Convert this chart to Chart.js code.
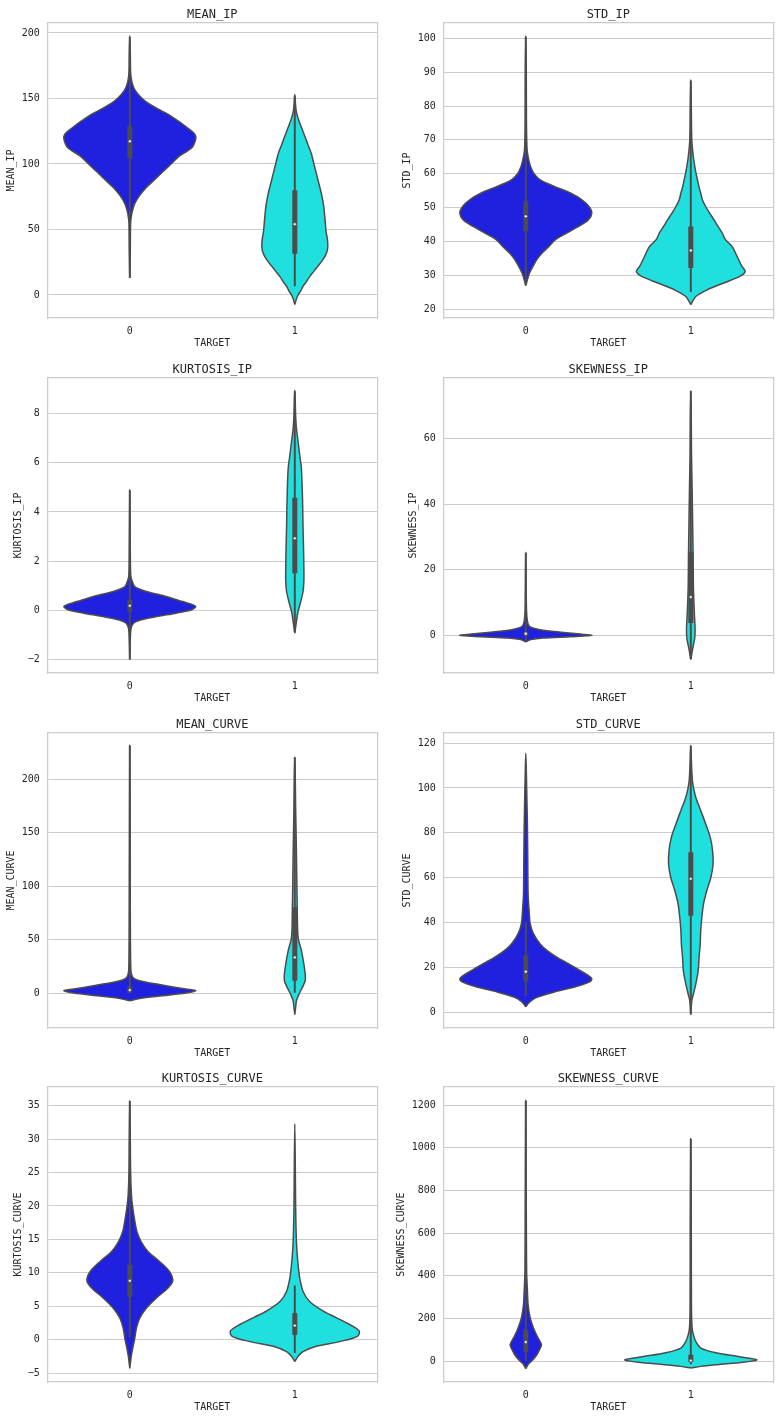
<!DOCTYPE html>
<html>
<head>
<meta charset="utf-8">
<script src="https://cdn.jsdelivr.net/npm/chart.js@4.4.0/dist/chart.umd.min.js"></script>
<style>
html, body { margin: 0; padding: 0; background: #fff; overflow: hidden; }
#grid { position: relative; width: 779px; height: 1420px; }
#grid canvas { position: absolute; }
</style>
</head>
<body>
<div id="grid"></div>
<script>
// categories on the x axis
const CATEGORIES = ['0', '1'];
const X_LABEL = 'TARGET';

// violin outlines: [value, half width in category units], bottom tip to top tip
const MEAN_IP_0 = [[13, 0], [35, 0.003], [55, 0.005], [62, 0.012], [67, 0.022], [71, 0.035], [76, 0.06], [82, 0.1], [88, 0.15], [94, 0.2], [100, 0.25], [106, 0.3], [110, 0.35], [113, 0.38], [117, 0.395], [121, 0.4], [124, 0.385], [128, 0.345], [133, 0.29], [138, 0.23], [142, 0.17], [146, 0.115], [150, 0.075], [154, 0.045], [158, 0.025], [163, 0.012], [170, 0.005], [185, 0.003], [198, 0]];
const MEAN_IP_1 = [[-7.4, 0], [-3, 0.01], [0, 0.02], [3, 0.035], [6.6, 0.05], [10, 0.07], [14, 0.09], [18, 0.115], [22, 0.14], [26, 0.165], [30, 0.185], [34, 0.197], [38, 0.2], [43, 0.197], [48, 0.19], [55, 0.185], [62, 0.18], [68, 0.175], [73, 0.168], [78, 0.16], [83, 0.15], [88, 0.14], [93, 0.13], [98, 0.12], [103, 0.11], [108, 0.1], [113, 0.085], [118, 0.07], [123, 0.055], [128, 0.04], [133, 0.025], [137, 0.015], [141, 0.008], [146, 0.004], [153, 0]];
const STD_IP_0 = [[26.9, 0], [28.7, 0.01], [30.6, 0.022], [32.6, 0.043], [34.6, 0.067], [36.6, 0.1], [38.5, 0.14], [40.5, 0.18], [42.5, 0.25], [44.4, 0.32], [46.4, 0.38], [48.4, 0.4], [50.3, 0.383], [52.3, 0.34], [54.3, 0.27], [56.3, 0.17], [58.2, 0.087], [60, 0.05], [62, 0.03], [64.1, 0.018], [67, 0.008], [75, 0.004], [90, 0.003], [100.8, 0]];
const STD_IP_1 = [[21.3, 0], [23.7, 0.03], [25.7, 0.1], [27.7, 0.2], [29.7, 0.3], [31.1, 0.33], [32.6, 0.31], [35.6, 0.28], [38.5, 0.25], [40.5, 0.21], [42.5, 0.19], [44.4, 0.165], [46.4, 0.14], [48.3, 0.115], [50.3, 0.09], [52.3, 0.07], [54.3, 0.06], [56, 0.05], [58.2, 0.04], [60, 0.032], [62.2, 0.024], [65.1, 0.015], [70, 0.006], [80, 0.003], [87.8, 0]];
const KURTOSIS_IP_0 = [[-2.0, 0], [-1.2, 0.003], [-0.72, 0.008], [-0.51, 0.024], [-0.38, 0.07], [-0.24, 0.17], [-0.11, 0.28], [0.03, 0.375], [0.16, 0.4], [0.26, 0.37], [0.36, 0.32], [0.57, 0.22], [0.77, 0.1], [0.97, 0.03], [1.18, 0.015], [1.4, 0.006], [2.5, 0.003], [4.9, 0]];
const KURTOSIS_IP_1 = [[-0.92, 0], [-0.45, 0.01], [-0.04, 0.02], [0.36, 0.036], [0.77, 0.05], [1.18, 0.055], [1.72, 0.055], [2.53, 0.053], [3.34, 0.05], [4.15, 0.048], [4.96, 0.045], [5.77, 0.04], [6.3, 0.03], [6.85, 0.02], [7.4, 0.01], [7.93, 0.005], [8.4, 0.003], [8.95, 0]];
const SKEWNESS_IP_0 = [[-2.1, 0], [-1.4, 0.03], [-0.9, 0.107], [-0.5, 0.27], [-0.1, 0.4], [0.3, 0.33], [0.81, 0.23], [1.63, 0.087], [2.64, 0.022], [4.2, 0.01], [8, 0.004], [25.3, 0]];
const SKEWNESS_IP_1 = [[-7.5, 0], [-4, 0.012], [-0.9, 0.024], [2.1, 0.026], [6.2, 0.022], [14.3, 0.016], [24.5, 0.014], [34.7, 0.011], [44.8, 0.008], [56, 0.004], [65, 0.003], [74.8, 0]];
const MEAN_CURVE_0 = [[-6.9, 0], [-4.7, 0.06], [-2.2, 0.2], [0.3, 0.34], [2.5, 0.4], [4.0, 0.34], [7.2, 0.22], [10.3, 0.1], [13.4, 0.03], [18, 0.01], [30, 0.005], [80, 0.003], [231.5, 0]];
const MEAN_CURVE_1 = [[-19.9, 0], [-12, 0.006], [-6.9, 0.01], [-0.6, 0.026], [5.6, 0.046], [11.8, 0.063], [18, 0.063], [27.4, 0.055], [39.9, 0.04], [52.3, 0.02], [77.3, 0.015], [108.4, 0.012], [139.6, 0.009], [174, 0.005], [200, 0.003], [220.6, 0]];
const STD_CURVE_0 = [[2.5, 0], [4.5, 0.022], [6.7, 0.067], [9.0, 0.17], [11.2, 0.29], [13.4, 0.38], [14.9, 0.4], [16.4, 0.38], [18.6, 0.33], [21.6, 0.26], [24.5, 0.19], [27.5, 0.13], [30.5, 0.087], [35, 0.047], [39.4, 0.027], [45.4, 0.02], [52.8, 0.014], [67.7, 0.012], [82.5, 0.01], [97.4, 0.006], [108, 0.003], [115.5, 0]];
const STD_CURVE_1 = [[-1, 0], [5.2, 0.006], [8.2, 0.016], [12.6, 0.03], [18.6, 0.045], [24.5, 0.05], [30.5, 0.057], [36.4, 0.06], [42.4, 0.067], [48.3, 0.077], [54.3, 0.097], [60.2, 0.122], [66.2, 0.135], [72, 0.132], [78, 0.118], [84, 0.09], [90, 0.06], [95.9, 0.03], [101.9, 0.012], [109.3, 0.005], [119, 0]];
const KURTOSIS_CURVE_0 = [[-4.3, 0], [-2.3, 0.01], [-1.0, 0.02], [0.2, 0.03], [1.7, 0.04], [3.2, 0.06], [4.7, 0.1], [6.2, 0.16], [7.7, 0.23], [8.8, 0.26], [10.2, 0.24], [11.7, 0.18], [13.2, 0.11], [14.6, 0.07], [16.1, 0.044], [18.1, 0.028], [20.1, 0.016], [21.6, 0.01], [25, 0.005], [30, 0.003], [35.8, 0]];
const KURTOSIS_CURVE_1 = [[-3.3, 0], [-2.5, 0.02], [-1.8, 0.05], [-1.0, 0.13], [-0.3, 0.27], [0.5, 0.38], [1.3, 0.39], [2.3, 0.33], [3.3, 0.25], [4.3, 0.17], [5.7, 0.09], [7.2, 0.05], [9.2, 0.03], [11.2, 0.02], [13.7, 0.012], [16.1, 0.008], [20.1, 0.005], [26, 0.003], [32.3, 0]];
const SKEWNESS_CURVE_0 = [[-36, 0], [-14, 0.016], [6.2, 0.043], [29.6, 0.067], [53, 0.083], [76.5, 0.095], [115, 0.07], [154, 0.047], [201, 0.027], [264, 0.014], [326, 0.01], [420, 0.005], [700, 0.003], [1223, 0]];
const SKEWNESS_CURVE_1 = [[-33, 0], [-25, 0.06], [-17, 0.16], [-6, 0.32], [6, 0.4], [22, 0.28], [37.5, 0.16], [61, 0.06], [92, 0.03], [123, 0.016], [154, 0.008], [250, 0.004], [600, 0.003], [1044, 0]];

// inner box per class: [q1, median, q3, whisker low, whisker high]
const MEAN_IP_BOX = [[104.6, 117.3, 129, 13, 197], [31.5, 54, 80, 6.6, 152]];
const STD_IP_BOX = [[43, 47.4, 51.8, 27, 100.5], [32.1, 37.3, 44.4, 25, 87.5]];
const KURTOSIS_IP_BOX = [[-0.04, 0.19, 0.43, -1.98, 4.88], [1.51, 2.93, 4.58, -0.9, 8.9]];
const SKEWNESS_IP_BOX = [[-0.2, 0.4, 0.9, -2, 25.2], [3.66, 11.6, 25.5, -7.3, 74.6]];
const MEAN_CURVE_BOX = [[0.9, 3.1, 7.2, 0.2, 231], [11.8, 33.6, 80.4, 0.5, 220.3]];
const STD_CURVE_BOX = [[13.8, 18.1, 25.3, 7.4, 40.5], [43.1, 59.5, 71.4, -0.8, 118.8]];
const KURTOSIS_CURVE_BOX = [[6.4, 8.8, 11.2, 0.3, 35.7], [0.7, 2.1, 4.0, -2, 8.1]];
const SKEWNESS_CURVE_BOX = [[42, 89, 147, 0, 1220], [-5, 2, 30, -15, 1042]];

// y tick labels and y limits
const MEAN_IP_TICKS = [0, 50, 100, 150, 200];
const STD_IP_TICKS = [20, 30, 40, 50, 60, 70, 80, 90, 100];
const KURTOSIS_IP_TICKS = [-2, 0, 2, 4, 6, 8];
const SKEWNESS_IP_TICKS = [0, 20, 40, 60];
const MEAN_CURVE_TICKS = [0, 50, 100, 150, 200];
const STD_CURVE_TICKS = [0, 20, 40, 60, 80, 100, 120];
const KURTOSIS_CURVE_TICKS = [-5, 0, 5, 10, 15, 20, 25, 30, 35];
const SKEWNESS_CURVE_TICKS = [0, 200, 400, 600, 800, 1000, 1200];

const PANELS = [
    { name: 'MEAN_IP', violins: [MEAN_IP_0, MEAN_IP_1], box: MEAN_IP_BOX, ticks: MEAN_IP_TICKS, limits: [-17.6, 207.6] },
    { name: 'STD_IP', violins: [STD_IP_0, STD_IP_1], box: STD_IP_BOX, ticks: STD_IP_TICKS, limits: [17.34, 104.55] },
    { name: 'KURTOSIS_IP', violins: [KURTOSIS_IP_0, KURTOSIS_IP_1], box: KURTOSIS_IP_BOX, ticks: KURTOSIS_IP_TICKS, limits: [-2.54, 9.44] },
    { name: 'SKEWNESS_IP', violins: [SKEWNESS_IP_0, SKEWNESS_IP_1], box: SKEWNESS_IP_BOX, ticks: SKEWNESS_IP_TICKS, limits: [-11.6, 78.6] },
    { name: 'MEAN_CURVE', violins: [MEAN_CURVE_0, MEAN_CURVE_1], box: MEAN_CURVE_BOX, ticks: MEAN_CURVE_TICKS, limits: [-32.3, 243] },
    { name: 'STD_CURVE', violins: [STD_CURVE_0, STD_CURVE_1], box: STD_CURVE_BOX, ticks: STD_CURVE_TICKS, limits: [-6.96, 124.5] },
    { name: 'KURTOSIS_CURVE', violins: [KURTOSIS_CURVE_0, KURTOSIS_CURVE_1], box: KURTOSIS_CURVE_BOX, ticks: KURTOSIS_CURVE_TICKS, limits: [-6.34, 37.8] },
    { name: 'SKEWNESS_CURVE', violins: [SKEWNESS_CURVE_0, SKEWNESS_CURVE_1], box: SKEWNESS_CURVE_BOX, ticks: SKEWNESS_CURVE_TICKS, limits: [-98.3, 1285.7] }
];

// layout (pixels)
const COL_LEFT = [0, 390];
const COL_WIDTH = [390, 389];
const Y_AXIS_WIDTH = [47.3, 53.3];
const RIGHT_PAD = [12.7, 5.7];
const ROW_TOP = [0, 355, 710, 1064];
const PANEL_HEIGHT = 355;
const Y_TITLE_X = [11.7, 17.5, 18.3, 23.3, 11.7, 17.5, 18.3, 11.7];

// styles
const FILL_COLORS = ['#2020df', '#20dfdf'];
const GRAY = '#4c4c4c';
const TEXT = '#262626';
const GRID = '#cccccc';
const FONT = "'DejaVu Sans Mono', monospace";

Chart.defaults.font.family = FONT;
Chart.defaults.font.size = 10;
Chart.defaults.color = TEXT;

function violinPoints(profile, center) {
    const right = profile.map(([v, w]) => ({ x: center + w, y: v }));
    const left = profile.slice().reverse().map(([v, w]) => ({ x: center - w, y: v }));
    return right.concat(left.slice(1));
}

function fmtTick(v) {
    return v < 0 ? '\u2212' + Math.abs(v) : String(v);
}

function buildDatasets(panel) {
    const medians = [], boxes = [], whiskers = [], violins = [];
    panel.violins.forEach((profile, i) => {
        const [q1, med, q3, lo, hi] = panel.box[i];
        medians.push({
            data: [{ x: i, y: med }],
            pointRadius: 1.4,
            pointBackgroundColor: '#ffffff',
            pointBorderColor: GRAY,
            pointBorderWidth: 0.5,
            showLine: false
        });
        boxes.push({
            data: [{ x: i, y: q1 }, { x: i, y: q3 }],
            showLine: true,
            borderColor: GRAY,
            borderWidth: 5,
            borderCapStyle: 'butt',
            pointRadius: 0
        });
        whiskers.push({
            data: [{ x: i, y: lo }, { x: i, y: hi }],
            showLine: true,
            borderColor: GRAY,
            borderWidth: 2,
            pointRadius: 0
        });
        violins.push({
            data: violinPoints(profile, i),
            showLine: true,
            fill: 'shape',
            backgroundColor: FILL_COLORS[i],
            borderColor: GRAY,
            borderWidth: 1.5,
            borderJoinStyle: 'round',
            tension: 0.3,
            pointRadius: 0
        });
    });
    // first dataset is drawn on top
    return [...medians, ...boxes, ...whiskers, ...violins];
}

const grid = document.getElementById('grid');

PANELS.forEach((panel, p) => {
    const col = p % 2;
    const row = Math.floor(p / 2);
    const canvas = document.createElement('canvas');
    canvas.width = COL_WIDTH[col];
    canvas.height = PANEL_HEIGHT;
    canvas.style.width = COL_WIDTH[col] + 'px';
    canvas.style.height = PANEL_HEIGHT + 'px';
    canvas.style.left = COL_LEFT[col] + 'px';
    canvas.style.top = ROW_TOP[row] + 'px';
    grid.appendChild(canvas);

    const border = { color: GRID, width: 1.25 };

    new Chart(canvas, {
        type: 'scatter',
        data: { datasets: buildDatasets(panel) },
        options: {
            responsive: false,
            maintainAspectRatio: false,
            animation: false,
            events: [],
            layout: { padding: { left: 0, right: RIGHT_PAD[col], top: 0, bottom: 0 } },
            plugins: {
                legend: { display: false },
                tooltip: { enabled: false },
                title: { display: false }
            },
            scales: {
                x: {
                    type: 'linear',
                    min: -0.5,
                    max: 1.5,
                    afterBuildTicks: (s) => { s.ticks = CATEGORIES.map((c, i) => ({ value: i })); },
                    afterFit: (s) => { s.height = 37; },
                    ticks: {
                        callback: (v) => CATEGORIES[v],
                        padding: 7,
                        maxRotation: 0,
                        autoSkip: false,
                        color: TEXT,
                        font: { size: 10 }
                    },
                    grid: { display: false, drawTicks: false },
                    border: border,
                    title: {
                        display: true,
                        text: X_LABEL,
                        color: TEXT,
                        font: { size: 10 },
                        padding: { top: 0, bottom: 5.2 }
                    }
                },
                y: {
                    type: 'linear',
                    min: panel.limits[0],
                    max: panel.limits[1],
                    afterBuildTicks: (s) => { s.ticks = panel.ticks.map((v) => ({ value: v })); },
                    afterFit: (s) => { s.width = Y_AXIS_WIDTH[col]; },
                    ticks: {
                        callback: (v) => fmtTick(v),
                        padding: 7.5,
                        autoSkip: false,
                        color: TEXT,
                        font: { size: 10 }
                    },
                    grid: { color: GRID, lineWidth: 1, drawTicks: false },
                    border: border,
                    title: {
                        display: true,
                        text: panel.name,
                        color: TEXT,
                        font: { size: 10 },
                        padding: { top: Y_TITLE_X[p] - 6, bottom: 0 }
                    }
                },
                x2: {
                    type: 'linear',
                    position: 'top',
                    min: -0.5,
                    max: 1.5,
                    afterFit: (s) => { s.height = 23; },
                    ticks: { display: false },
                    grid: { display: false, drawTicks: false },
                    border: border,
                    title: {
                        display: true,
                        text: panel.name,
                        color: TEXT,
                        font: { size: 12 },
                        padding: { top: 7.5, bottom: 1.1 }
                    }
                },
                y2: {
                    type: 'linear',
                    position: 'right',
                    min: panel.limits[0],
                    max: panel.limits[1],
                    afterFit: (s) => { s.width = 0; },
                    ticks: { display: false },
                    grid: { display: false, drawTicks: false },
                    border: border
                }
            }
        }
    });
});
</script>
</body>
</html>
